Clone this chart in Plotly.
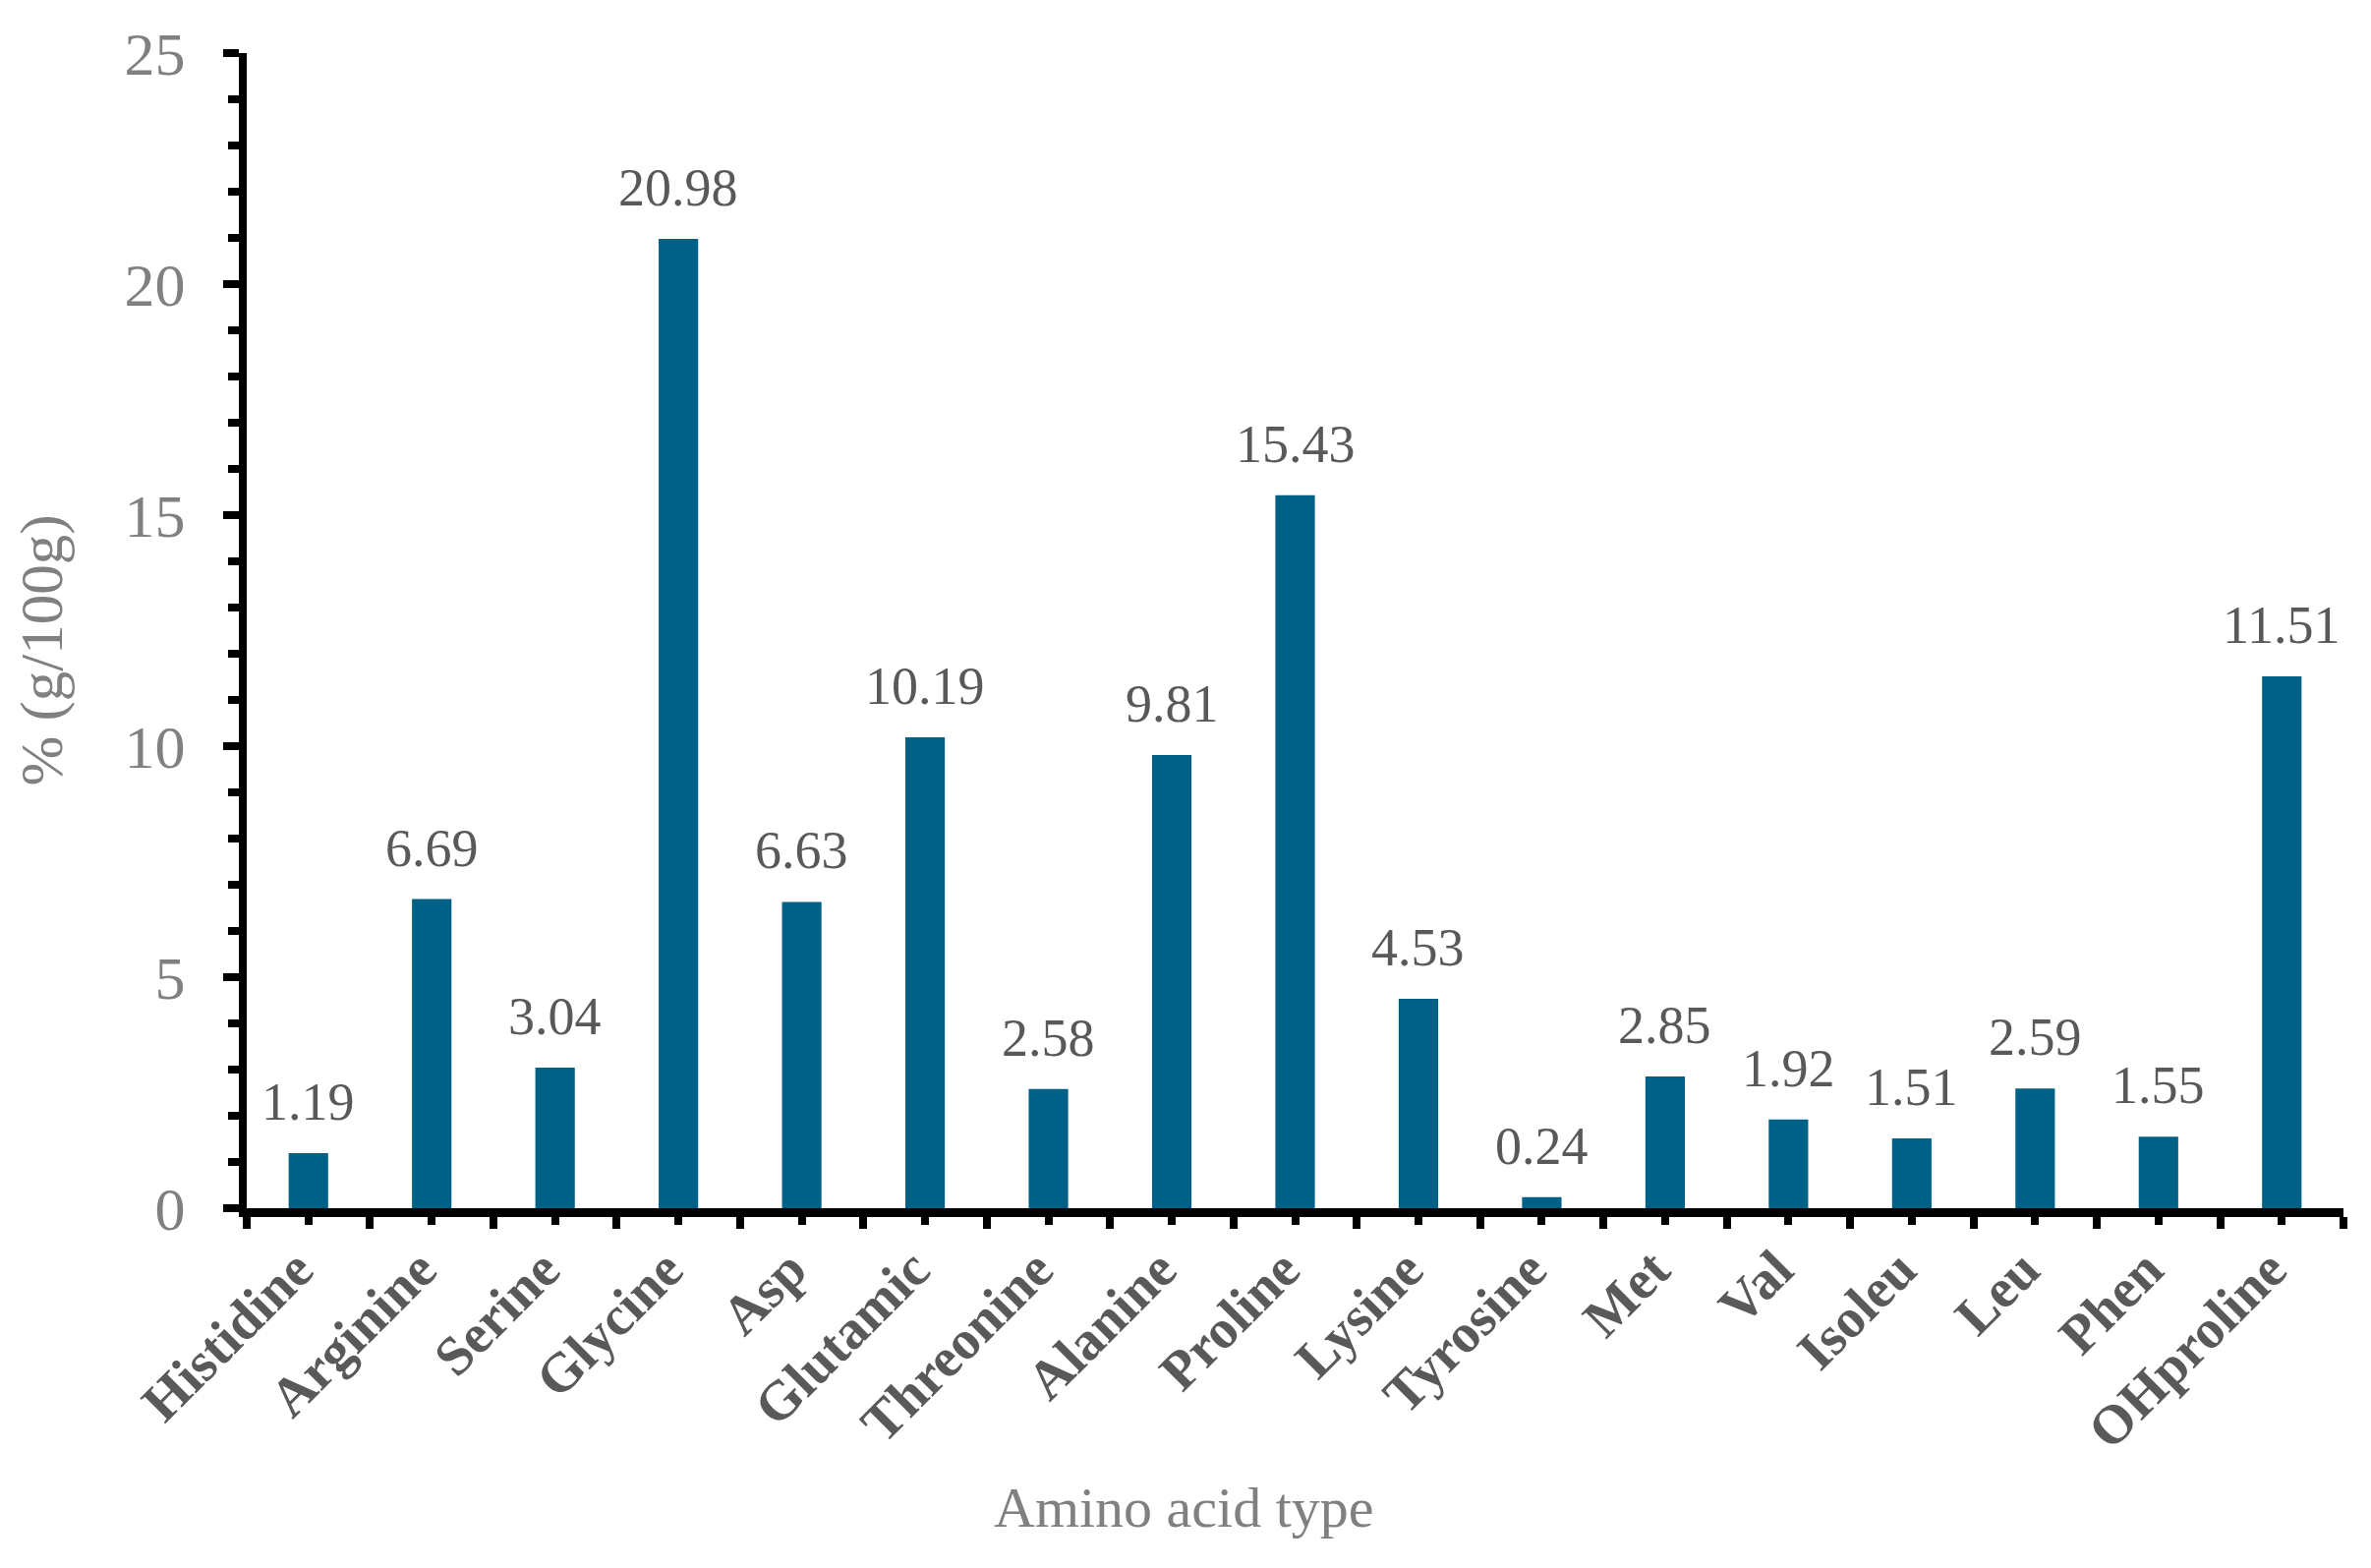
import plotly.graph_objects as go

categories = ["Histidine", "Arginine", "Serine", "Glycine", "Asp", "Glutamic",
              "Threonine", "Alanine", "Proline", "Lysine", "Tyrosine", "Met",
              "Val", "Isoleu", "Leu", "Phen", "OHproline"]
values = [1.19, 6.69, 3.04, 20.98, 6.63, 10.19, 2.58, 9.81, 15.43, 4.53, 0.24,
          2.85, 1.92, 1.51, 2.59, 1.55, 11.51]
y_ticks = [0, 5, 10, 15, 20, 25]
y_max = 25

x_pos = list(range(len(categories)))
x_range = [-0.5, len(categories) - 0.5]
boundaries = [i - 0.5 for i in range(len(categories) + 1)]
y_minor = [v for v in range(0, y_max + 1) if v % 5 != 0]
bar_color = "#006085"
serif = "Liberation Serif"

fig = go.Figure()
fig.add_trace(go.Bar(
    x=x_pos, y=values, width=0.32, marker=dict(color=bar_color, line=dict(width=0)),
    showlegend=False, hoverinfo="x+y",
))
# invisible companion trace so the overlay axes (boundary / minor ticks) are drawn
fig.add_trace(go.Scatter(
    x=x_pos, y=values, xaxis="x2", yaxis="y2", mode="none",
    showlegend=False, hoverinfo="skip",
))

for xi, v in zip(x_pos, values):
    fig.add_annotation(
        x=xi, y=v, xref="x", yref="y", text=f"{v:.2f}", showarrow=False,
        yanchor="bottom", yshift=20,
        font=dict(family=serif, size=54, color="#595959"),
    )

fig.add_annotation(
    x=0.447, y=-0.259, xref="paper", yref="paper", text="Amino acid type",
    showarrow=False, xanchor="center", yanchor="middle",
    font=dict(family=serif, size=58, color="#808080"),
)
fig.add_annotation(
    x=-0.0975, y=0.483, xref="paper", yref="paper", text="% (g/100g)",
    showarrow=False, xanchor="center", yanchor="middle", textangle=-90,
    font=dict(family=serif, size=61, color="#808080"),
)

fig.update_layout(
    width=2412, height=1595,
    margin=dict(l=243, r=36, t=46, b=374),
    plot_bgcolor="white", paper_bgcolor="white",
    bargap=0.68,
    xaxis=dict(
        range=x_range,
        tickmode="array", tickvals=x_pos, ticktext=categories,
        tickangle=-45,
        ticks="outside", ticklen=8, tickwidth=8, tickcolor="black",
        showline=True, linecolor="black", linewidth=9,
        showgrid=False, zeroline=False,
        ticklabelstandoff=-10, ticklabelshift=-12,
        tickfont=dict(family=serif, size=56, color="#595959", weight="bold"),
    ),
    xaxis2=dict(
        range=x_range, overlaying="x", anchor="y", side="bottom",
        tickmode="array", tickvals=boundaries, showticklabels=False,
        ticks="outside", ticklen=12, tickwidth=8, tickcolor="black",
        showline=True, linecolor="black", linewidth=9,
        showgrid=False, zeroline=False,
    ),
    yaxis=dict(
        range=[0, y_max],
        tickmode="array", tickvals=y_ticks,
        ticks="outside", ticklen=16, tickwidth=8, tickcolor="black",
        showline=True, linecolor="black", linewidth=8,
        showgrid=False, zeroline=False,
        ticklabelstandoff=26,
        tickfont=dict(family=serif, size=62, color="#808080"),
    ),
    yaxis2=dict(
        range=[0, y_max], overlaying="y", anchor="x", side="left",
        tickmode="array", tickvals=y_minor, showticklabels=False,
        ticks="outside", ticklen=11, tickwidth=8, tickcolor="black",
        showline=True, linecolor="black", linewidth=8,
        showgrid=False, zeroline=False,
    ),
)

fig.write_html("out.html")
